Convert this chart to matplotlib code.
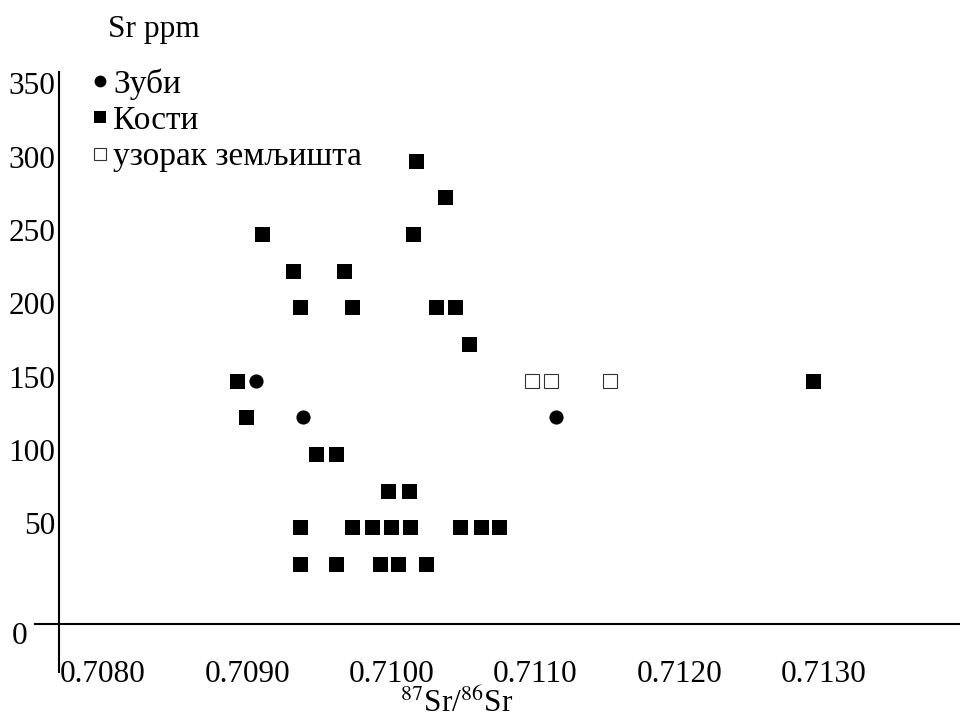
import matplotlib
matplotlib.use("Agg")
import matplotlib.pyplot as plt
from matplotlib.lines import Line2D
from matplotlib.transforms import ScaledTranslation

plt.rcParams['font.family'] = ['Liberation Serif', 'DejaVu Serif']
plt.rcParams['mathtext.fontset'] = 'stix'

# Data
teeth_x = [0.70906, 0.70939, 0.71114]
teeth_y = [150, 125, 125]

bones_x = [0.71017,
           0.71037,
           0.70910, 0.71015,
           0.70932, 0.70967,
           0.70937, 0.70973, 0.71031, 0.71044,
           0.71054,
           0.70893, 0.71293,
           0.70899,
           0.70948, 0.70962,
           0.70998, 0.71012,
           0.70937, 0.70973, 0.70987, 0.71000, 0.71013, 0.71048, 0.71062, 0.71075,
           0.70937, 0.70962, 0.70992, 0.71005, 0.71024]
bones_y = [300,
           275,
           250, 250,
           225, 225,
           200, 200, 200, 200,
           175,
           150, 150,
           125,
           100, 100,
           75, 75,
           50, 50, 50, 50, 50, 50, 50, 50,
           25, 25, 25, 25, 25]

soil_x = [0.71098, 0.71111, 0.71152]
soil_y = [150, 150, 150]

xticks = [0.7080, 0.7090, 0.7100, 0.7110, 0.7120, 0.7130]
xtick_labels = ['0.7080', '0.7090', '0.7100', '0.7110', '0.7120', '0.7130']
yticks = [50, 100, 150, 200, 250, 300, 350]
ytick_labels = ['50', '100', '150', '200', '250', '300', '350']
legend_labels = ['Зуби', 'Кости', 'узорак земљишта']

W, H = 960, 719
fig = plt.figure(figsize=(W / 100, H / 100), dpi=100)
ax = fig.add_axes([35 / W, 1 - 672 / H, (960 - 35) / W, (672 - 72) / H])

FS = 22.5
LFS = 24
ax.set_xlim(0.707528, 0.713947)
ax.set_ylim(-48.7, 360.5)

ax.plot(bones_x, bones_y, linestyle='none', marker='s', markersize=10.8,
        color='black', markeredgewidth=0)
ax.plot(teeth_x, teeth_y, linestyle='none', marker='o', markersize=10.2,
        color='black', markeredgewidth=0)
ax.plot(soil_x, soil_y, linestyle='none', marker='s', markersize=10.3,
        markerfacecolor='white', markeredgecolor='#333333', markeredgewidth=0.8)

for s in ['top', 'right']:
    ax.spines[s].set_visible(False)
ax.spines['left'].set_position(('data', 0.707698))
ax.spines['bottom'].set_position(('data', -16))
for s in ['left', 'bottom']:
    ax.spines[s].set_linewidth(1.5)

ax.set_xticks(xticks)
ax.set_xticklabels(xtick_labels, fontsize=FS)
ax.set_yticks(yticks)
ax.set_yticklabels(ytick_labels, fontsize=FS)
ax.tick_params(axis='x', length=0, pad=26)
ax.tick_params(axis='y', length=0, pad=3)
shift_up = ScaledTranslation(0, 4 / 100, fig.dpi_scale_trans)
for lab in ax.get_yticklabels():
    lab.set_transform(lab.get_transform() + shift_up)

fig.text(12 / W, 1 - 637 / H, '0', fontsize=FS, ha='left', va='center')
fig.text(108 / W, 1 - 37 / H, 'Sr ppm', fontsize=FS, ha='left', va='baseline')
fig.text(457 / W, 1 - 712 / H, r'$^{87}$Sr/$^{86}$Sr', fontsize=FS,
         ha='center', va='baseline')

handles = [
    Line2D([], [], linestyle='none', marker='o', markersize=8.5, color='black', markeredgewidth=0),
    Line2D([], [], linestyle='none', marker='s', markersize=8.5, color='black', markeredgewidth=0),
    Line2D([], [], linestyle='none', marker='s', markersize=8.0, markerfacecolor='white',
           markeredgecolor='#333333', markeredgewidth=0.8),
]
leg = ax.legend(handles, legend_labels, loc='upper left', bbox_to_anchor=(91.7 / W, 1 - 68 / H),
                bbox_transform=fig.transFigure, frameon=False, fontsize=LFS,
                handlelength=0.5, handletextpad=0.15, labelspacing=0.18,
                borderpad=0, borderaxespad=0)

fig.savefig('out.png', dpi=100)
